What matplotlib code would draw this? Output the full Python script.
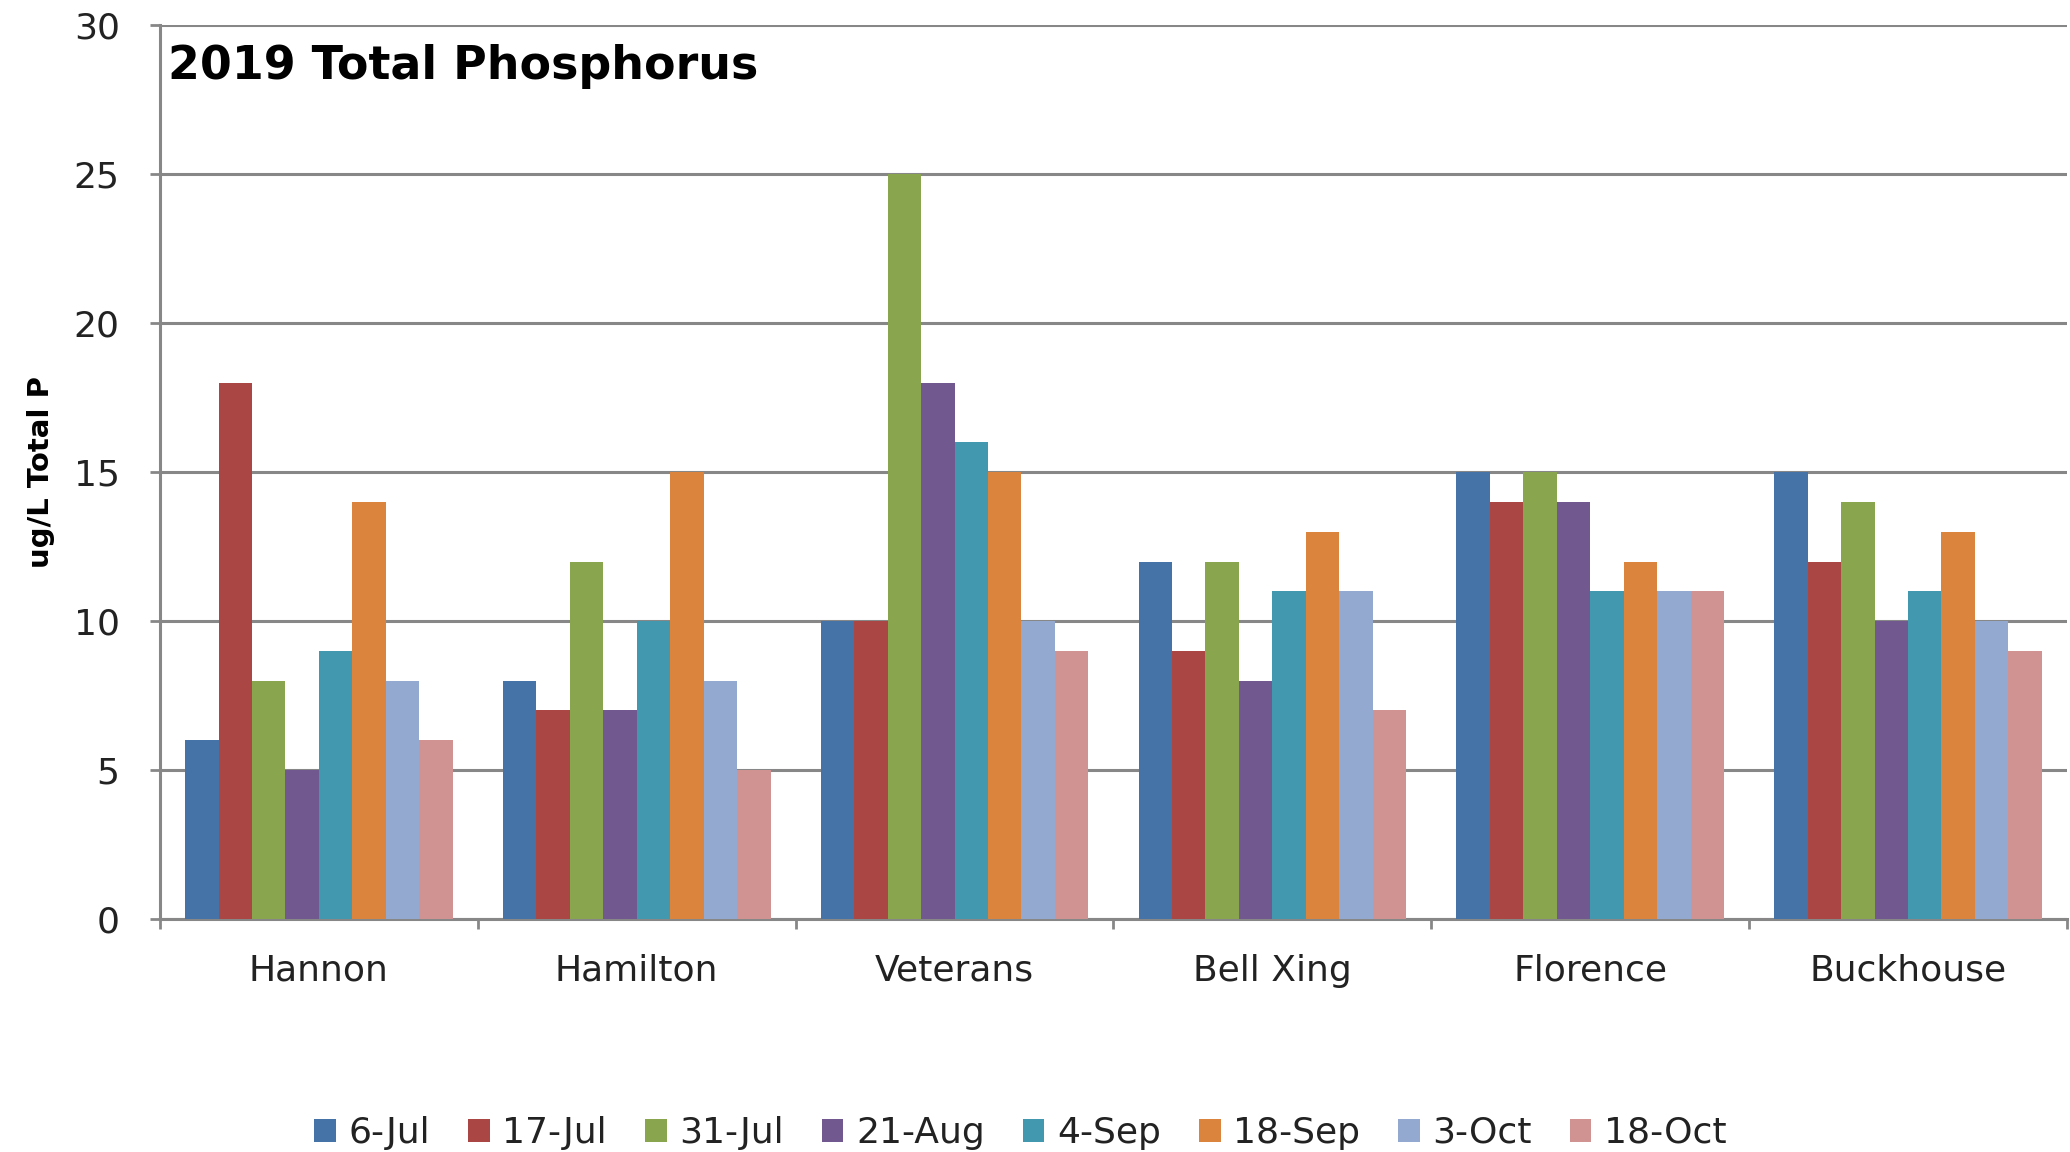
import matplotlib.pyplot as plt
import numpy as np

sites = ["Hannon", "Hamilton", "Veterans", "Bell Xing", "Florence", "Buckhouse"]
dates = ["6-Jul", "17-Jul", "31-Jul", "21-Aug", "4-Sep", "18-Sep", "3-Oct", "18-Oct"]

# ug/L total P per sampling date, one value per site
jul06 = [6, 8, 10, 12, 15, 15]
jul17 = [18, 7, 10, 9, 14, 12]
jul31 = [8, 12, 25, 12, 15, 14]
aug21 = [5, 7, 18, 8, 14, 10]
sep04 = [9, 10, 16, 11, 11, 11]
sep18 = [14, 15, 15, 13, 12, 13]
oct03 = [8, 8, 10, 11, 11, 10]
oct18 = [6, 5, 9, 7, 11, 9]

series = [jul06, jul17, jul31, aug21, sep04, sep18, oct03, oct18]
colors = ["#4572A7", "#AA4643", "#89A54E", "#71588F",
          "#4198AF", "#DB843D", "#93A9CF", "#D19392"]

plt.rcParams['font.family'] = ['DejaVu Sans']
grey = "#878787"

fig = plt.figure(figsize=(20.7, 11.52), dpi=100)
ax = fig.add_axes([0.0773, 0.2023, 0.9212, 0.7757])

x = np.arange(len(sites))
w = 0.842 / len(series)
for j, (vals, c, d) in enumerate(zip(series, colors, dates)):
    ax.bar(x + (j - 3.5) * w, vals, width=w, color=c, label=d, zorder=3)

ax.set_xlim(-0.5, len(sites) - 0.5)
ax.set_ylim(0, 30)
ax.set_yticks(range(0, 31, 5))
ax.yaxis.grid(True, color=grey, linewidth=2.2, zorder=0)

ax.set_xticks(np.arange(-0.5, len(sites), 1.0))
ax.set_xticklabels([])
ax.set_xticks(x, minor=True)
ax.set_xticklabels(sites, minor=True)
ax.tick_params(axis='x', which='major', length=7, width=2, color=grey)
ax.tick_params(axis='x', which='minor', length=0, pad=25, labelsize=26, labelcolor="#222222")
ax.tick_params(axis='y', length=7, width=2, color=grey, pad=22, labelsize=26, labelcolor="#222222")

for s in ["top", "right"]:
    ax.spines[s].set_visible(False)
for s in ["left", "bottom"]:
    ax.spines[s].set_color(grey)
    ax.spines[s].set_linewidth(2.2)

ax.set_ylabel("ug/L Total P", fontsize=21, fontweight='bold')
ax.yaxis.set_label_coords(-0.055, 0.5)

ax.text(0.004, 0.979, "2019 Total Phosphorus", transform=ax.transAxes,
        fontsize=33, fontweight='bold', va='top', ha='left')

fig.legend(loc='center', bbox_to_anchor=(0.493, 0.0165), ncol=8, frameon=False,
           fontsize=26, handlelength=0.6, handleheight=0.6, handletextpad=0.35,
           columnspacing=1.05, labelcolor="#222222")

fig.savefig("out.png", dpi=100)
